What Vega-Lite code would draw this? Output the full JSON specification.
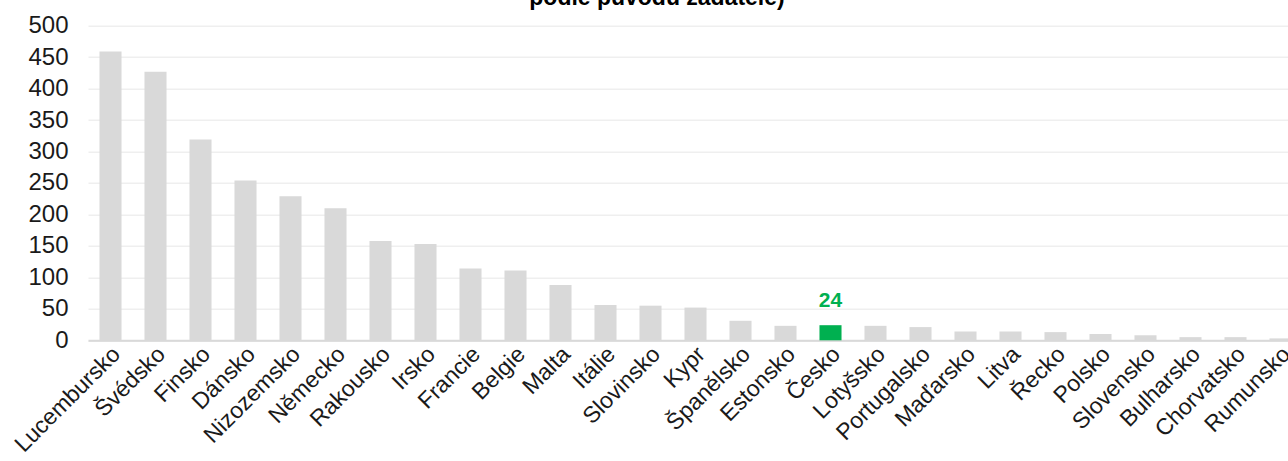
{
  "$schema": "https://vega.github.io/schema/vega-lite/v6.json",
  "autosize": {"type": "none"},
  "width": 1200,
  "height": 314.6,
  "padding": {"left": 88, "top": 25.7, "right": 0, "bottom": 121},
  "background": "white",
  "view": {"stroke": null},
  "title": {
    "text": "podle původu žadatele)",
    "anchor": "middle",
    "frame": "group",
    "dx": -31,
    "offset": 4,
    "font": "Liberation Sans",
    "fontSize": 23,
    "fontWeight": "bold",
    "color": "#000000"
  },
  "data": {
    "values": [
      {"zeme": "Lucembursko", "hodnota": 459},
      {"zeme": "Švédsko", "hodnota": 427},
      {"zeme": "Finsko", "hodnota": 319},
      {"zeme": "Dánsko", "hodnota": 254},
      {"zeme": "Nizozemsko", "hodnota": 229},
      {"zeme": "Německo", "hodnota": 210},
      {"zeme": "Rakousko", "hodnota": 158},
      {"zeme": "Irsko", "hodnota": 153},
      {"zeme": "Francie", "hodnota": 114},
      {"zeme": "Belgie", "hodnota": 111},
      {"zeme": "Malta", "hodnota": 88},
      {"zeme": "Itálie", "hodnota": 56},
      {"zeme": "Slovinsko", "hodnota": 55},
      {"zeme": "Kypr", "hodnota": 52},
      {"zeme": "Španělsko", "hodnota": 31},
      {"zeme": "Estonsko", "hodnota": 23},
      {"zeme": "Česko", "hodnota": 24},
      {"zeme": "Lotyšsko", "hodnota": 23},
      {"zeme": "Portugalsko", "hodnota": 21},
      {"zeme": "Maďarsko", "hodnota": 14},
      {"zeme": "Litva", "hodnota": 14},
      {"zeme": "Řecko", "hodnota": 13},
      {"zeme": "Polsko", "hodnota": 10},
      {"zeme": "Slovensko", "hodnota": 8},
      {"zeme": "Bulharsko", "hodnota": 5},
      {"zeme": "Chorvatsko", "hodnota": 5},
      {"zeme": "Rumunsko", "hodnota": 3}
    ]
  },
  "encoding": {
    "x": {
      "field": "zeme",
      "type": "nominal",
      "sort": null,
      "title": null,
      "scale": {"range": [0, 1215], "paddingInner": 0.51, "paddingOuter": 0.255},
      "axis": {
        "labelAngle": -45,
        "labelAlign": "right",
        "labelBaseline": "middle",
        "labelFont": "Liberation Sans",
        "labelFontSize": 23,
        "labelColor": "#1a1a1a",
        "labelPadding": 10,
        "labelOffset": 6,
        "ticks": false,
        "domainColor": "#d9d9d9",
        "domainWidth": 2,
        "grid": false
      }
    },
    "y": {
      "field": "hodnota",
      "type": "quantitative",
      "title": null,
      "scale": {"domain": [0, 500], "nice": false},
      "axis": {
        "values": [0, 50, 100, 150, 200, 250, 300, 350, 400, 450, 500],
        "labelFont": "Liberation Sans",
        "labelFontSize": 24,
        "labelColor": "#1a1a1a",
        "labelPadding": 20,
        "ticks": false,
        "domain": false,
        "gridColor": "#efefef",
        "gridWidth": 1.5
      }
    }
  },
  "layer": [
    {
      "mark": {"type": "bar"},
      "encoding": {
        "color": {
          "condition": {"test": "datum.zeme === 'Česko'", "value": "#00b050"},
          "value": "#d9d9d9"
        }
      }
    },
    {
      "transform": [{"filter": "datum.zeme === 'Česko'"}],
      "mark": {
        "type": "text",
        "dy": -24,
        "font": "Liberation Sans",
        "fontSize": 21,
        "fontWeight": "bold",
        "color": "#00b050"
      },
      "encoding": {"text": {"field": "hodnota", "type": "quantitative"}}
    }
  ]
}
